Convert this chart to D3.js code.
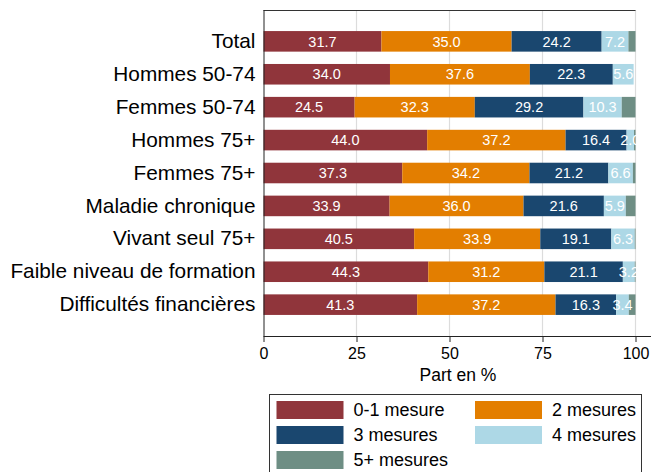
<!DOCTYPE html>
<meta charset="utf-8">
<style>
body { margin: 0; background: #fff; }
text { font-family: "Liberation Sans", Arial, sans-serif; }
.tick text { font-size: 16px; fill: #000; }
.seglab { font-size: 14.5px; fill: #fff; }
.legend text { font-size: 18px; fill: #000; }
</style>
<body>
<script src="https://cdn.jsdelivr.net/npm/d3@7"></script>
<script>

var width = 651,
    height = 472;

// groups, top to bottom
var categories = ["Total", "Hommes 50-74", "Femmes 50-74", "Hommes 75+", "Femmes 75+",
  "Maladie chronique", "Vivant seul 75+", "Faible niveau de formation", "Difficultés financières"];

// share (%) in each group
var m01  = [31.7, 34.0, 24.5, 44.0, 37.3, 33.9, 40.5, 44.3, 41.3];
var m2   = [35.0, 37.6, 32.3, 37.2, 34.2, 36.0, 33.9, 31.2, 37.2];
var m3   = [24.2, 22.3, 29.2, 16.4, 21.2, 21.6, 19.1, 21.1, 16.3];
var m4   = [7.2, 5.6, 10.3, 2.0, 6.6, 5.9, 6.3, 3.2, 3.4];
var m5   = [1.9, 0.0, 3.7, 0.4, 0.7, 2.6, 0.2, 0.2, 1.8];

var seriesNames = ["0-1 mesure", "2 mesures", "3 mesures", "4 mesures", "5+ mesures"];
var colors = ["#90353B", "#E37E00", "#1A476F", "#ADD8E6", "#6E8E84"];
var xTicks = [0, 25, 50, 75, 100];

var keys = ["a", "b", "c", "d", "e"];
var rows = categories.map(function(c, i) {
  return {cat: c, a: m01[i], b: m2[i], c: m3[i], d: m4[i], e: m5[i]};
});
var stacked = d3.stack().keys(keys)(rows);

var x = d3.scaleLinear().domain([0, 100]).range([263.5, 635.5]);
var y = d3.scaleBand().domain(categories).range([10, 336])
    .paddingInner(0.375).paddingOuter(0.64);

var svg = d3.select("body").append("svg")
    .attr("width", width)
    .attr("height", height);

// grid
svg.append("g").selectAll("line")
  .data(xTicks.slice(1))
  .enter().append("line")
    .attr("x1", function(d) { return x(d); })
    .attr("x2", function(d) { return x(d); })
    .attr("y1", 10).attr("y2", 336)
    .attr("stroke", "#dcdcdc").attr("stroke-width", 1.2);

// top frame
svg.append("line")
    .attr("x1", x(0)).attr("x2", x(100))
    .attr("y1", 10.5).attr("y2", 10.5)
    .attr("stroke", "#333").attr("stroke-width", 1);

// bars
var layer = svg.append("g").selectAll("g")
  .data(stacked)
  .enter().append("g")
    .attr("fill", function(d, i) { return colors[i]; });

layer.selectAll("rect")
  .data(function(d) { return d; })
  .enter().append("rect")
    .attr("x", function(d) { return x(d[0]); })
    .attr("width", function(d) { return x(d[1]) - x(d[0]); })
    .attr("y", function(d) { return y(d.data.cat); })
    .attr("height", y.bandwidth());

// segment labels (not on 5+)
stacked.slice(0, 4).forEach(function(s) {
  svg.append("g").selectAll("text")
    .data(s)
    .enter().append("text")
      .attr("class", "seglab")
      .attr("x", function(d) { return (x(d[0]) + x(d[1])) / 2; })
      .attr("y", function(d) { return y(d.data.cat) + y.bandwidth() / 2; })
      .attr("dy", "0.36em")
      .attr("text-anchor", "middle")
      .text(function(d) { return (d[1] - d[0]).toFixed(1); });
});

// y axis
var yAxis = svg.append("g")
    .attr("transform", "translate(" + x(0) + ",0)")
    .call(d3.axisLeft(y).tickSize(0).tickPadding(8));
yAxis.select(".domain").attr("d", "M0.5,10V336").attr("stroke", "#222");
yAxis.selectAll(".tick text").style("font-size", "20.8px").attr("fill", "#000");

// x axis
var xAxis = svg.append("g")
    .attr("transform", "translate(0,336)")
    .call(d3.axisBottom(x).tickValues(xTicks).tickSize(6).tickPadding(6));
xAxis.select(".domain").attr("d", "M" + x(0) + ",0.5H651").attr("stroke", "#222");
xAxis.selectAll(".tick line").attr("stroke", "#222");

svg.append("text")
    .attr("x", 458).attr("y", 375)
    .attr("dy", "0.36em")
    .attr("text-anchor", "middle")
    .style("font-size", "17.5px")
    .text("Part en %");

// legend
var legend = svg.append("g").attr("class", "legend");
legend.append("rect")
    .attr("x", 269.5).attr("y", 394.5)
    .attr("width", 372).attr("height", 90)
    .attr("fill", "none").attr("stroke", "#333");

var legPos = [[276.5, 401], [475, 401], [276.5, 426], [475, 426], [276.5, 451]];
var item = legend.selectAll("g.item")
  .data(seriesNames)
  .enter().append("g")
    .attr("class", "item")
    .attr("transform", function(d, i) { return "translate(" + legPos[i][0] + "," + legPos[i][1] + ")"; });
item.append("rect")
    .attr("width", 67).attr("height", 18)
    .attr("fill", function(d, i) { return colors[i]; });
item.append("text")
    .attr("x", 77).attr("y", 9)
    .attr("dy", "0.36em")
    .text(function(d) { return d; });

</script>
